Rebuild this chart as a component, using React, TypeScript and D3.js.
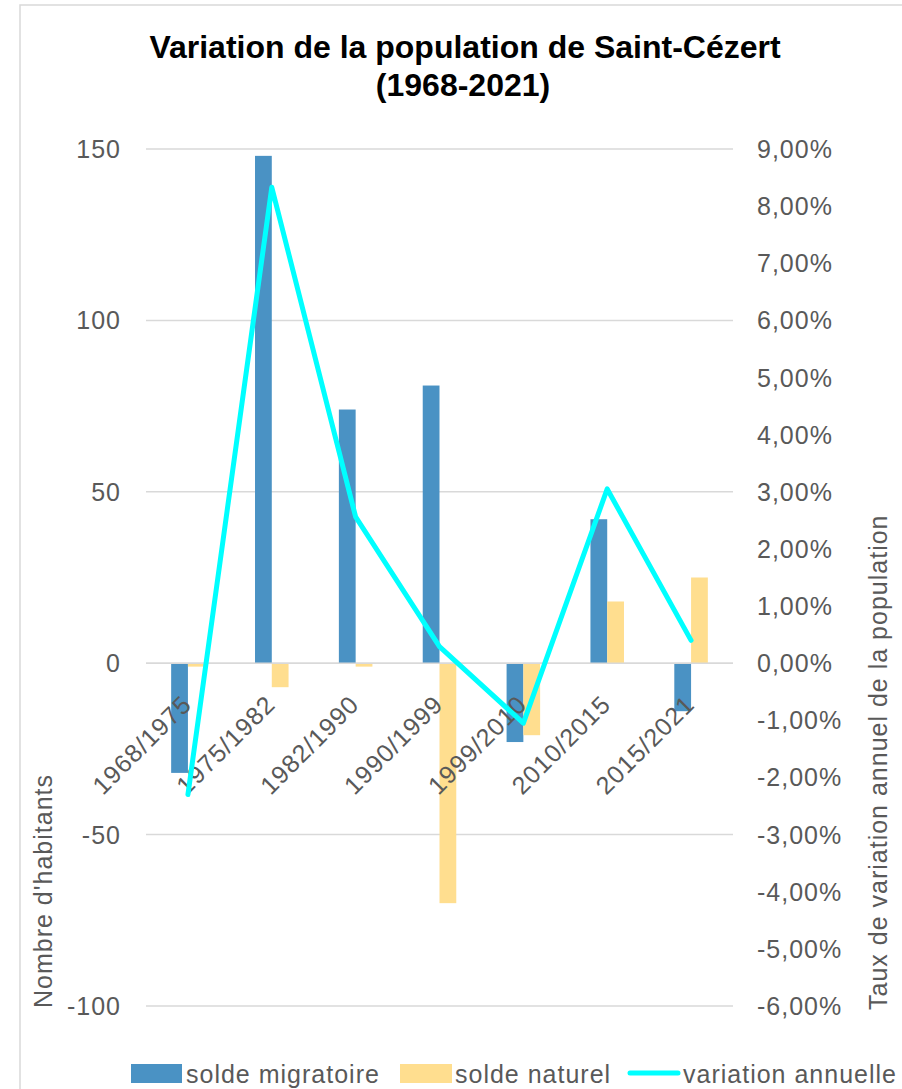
import React from "react";
import * as d3 from "d3";

const categories = ["1968/1975", "1975/1982", "1982/1990", "1990/1999", "1999/2010", "2010/2015", "2015/2021"];
const soldeMigratoire = [-32, 148, 74, 81, -23, 42, -14];
const soldeNaturel = [-1, -7, -1, -70, -21, 18, 25];
const variationAnnuelle = [-2.3, 8.33, 2.56, 0.29, -1.05, 3.05, 0.4];
const leftTicks = [150, 100, 50, 0, -50, -100];
const rightTicks = [9, 8, 7, 6, 5, 4, 3, 2, 1, 0, -1, -2, -3, -4, -5, -6];

const W = 902;
const H = 1089;
const FONT = "'Liberation Sans', Arial, Helvetica, sans-serif";
const GREY = "#595959";
const BLUE = "#4A92C4";
const YELLOW = "#FFDE8F";
const CYAN = "#00FFFF";

export default function App() {
  const plotL = 146, plotR = 733, plotT = 149, plotB = 1006;
  const x = d3.scaleBand<string>().domain(categories).range([plotL, plotR]).paddingInner(0).paddingOuter(0);
  const yL = d3.scaleLinear().domain([-100, 150]).range([plotB, plotT]);
  const yR = d3.scaleLinear().domain([-6, 9]).range([plotB, plotT]);
  const bw = x.bandwidth();
  const barW = bw / 2.5 / 2;
  const cx = (c: string) => (x(c) as number) + bw / 2;

  const line = d3
    .line<number>()
    .x((_, i) => cx(categories[i]))
    .y((d) => yR(d));

  const fmtPct = (v: number) => v.toFixed(2).replace(".", ",") + "%";

  const textStyle = { fontFamily: FONT, fontSize: 25, fill: GREY, letterSpacing: 1 } as React.CSSProperties;

  return (
    <svg width={W} height={H} style={{ position: "absolute", left: 0, top: 0, background: "#fff" }}>
      <rect x={20} y={5} width={W + 20} height={H + 20} fill="#fff" stroke="#D9D9D9" strokeWidth={1.5} />
      <text x={465} y={58} textAnchor="middle" style={{ fontFamily: FONT, fontSize: 32, fontWeight: "bold", fill: "#000" }}>
        Variation de la population de Saint-Cézert
      </text>
      <text x={463} y={96} textAnchor="middle" style={{ fontFamily: FONT, fontSize: 32, fontWeight: "bold", fill: "#000" }}>
        (1968-2021)
      </text>

      {leftTicks.map((t) => (
        <g key={"l" + t}>
          <line x1={plotL} x2={plotR} y1={yL(t)} y2={yL(t)} stroke="#D9D9D9" strokeWidth={1.5} />
          <text x={121} y={yL(t)} dy="0.36em" textAnchor="end" style={textStyle}>
            {t}
          </text>
        </g>
      ))}
      {rightTicks.map((t) => (
        <text key={"r" + t} x={757} y={yR(t)} dy="0.36em" textAnchor="start" style={textStyle}>
          {fmtPct(t)}
        </text>
      ))}

      {categories.map((c, i) => {
        const m = soldeMigratoire[i];
        const n = soldeNaturel[i];
        const x0 = cx(c);
        return (
          <g key={c}>
            <rect x={x0 - barW} width={barW} y={Math.min(yL(m), yL(0))} height={Math.abs(yL(m) - yL(0))} fill={BLUE} />
            <rect x={x0} width={barW} y={Math.min(yL(n), yL(0))} height={Math.abs(yL(n) - yL(0))} fill={YELLOW} />
          </g>
        );
      })}

      <line x1={plotL} x2={plotR} y1={yL(0)} y2={yL(0)} stroke="#D9D9D9" strokeWidth={1.5} />

      {categories.map((c) => (
        <text
          key={"xl" + c}
          x={cx(c) + 5}
          y={706}
          textAnchor="end"
          transform={`rotate(-45, ${cx(c) + 5}, 706)`}
          style={textStyle}
        >
          {c}
        </text>
      ))}

      <path d={line(variationAnnuelle) || ""} fill="none" stroke={CYAN} strokeWidth={5} strokeLinejoin="round" strokeLinecap="round" />

      <text x={43} y={1008} dy="0.36em" transform="rotate(-90, 43, 1008)" textAnchor="start" style={textStyle}>
        Nombre d'habitants
      </text>
      <text x={878} y={1010} dy="0.36em" transform="rotate(-90, 878, 1010)" textAnchor="start" style={textStyle}>
        Taux de variation annuel de la population
      </text>

      <rect x={131} y={1064} width={51} height={19} fill={BLUE} />
      <text x={186} y={1083} style={textStyle}>solde migratoire</text>
      <rect x={400} y={1064} width={52} height={19} fill={YELLOW} />
      <text x={455} y={1083} style={textStyle}>solde naturel</text>
      <line x1={630} x2={678} y1={1073} y2={1073} stroke={CYAN} strokeWidth={5} strokeLinecap="round" />
      <text x={683} y={1083} style={textStyle}>variation annuelle</text>
    </svg>
  );
}
